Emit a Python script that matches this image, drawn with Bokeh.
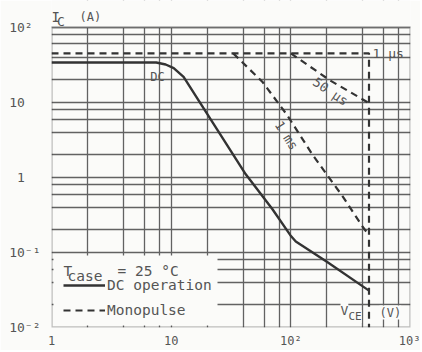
from bokeh.plotting import figure
from bokeh.models import FixedTicker, Label, Legend, LegendItem, BoxAnnotation
from bokeh.embed import file_html
from bokeh.resources import INLINE

# ---- data ----
dc_v = [1, 7.5, 9, 10.5, 12.7, 42, 70, 99, 110, 200, 450]
dc_i = [34, 34, 32, 28.6, 21.8, 1.1, 0.38, 0.17, 0.14, 0.075, 0.031]
p1us_v = [1, 450, 450]
p1us_i = [45, 45, 0.01]
p50us_v = [100, 214, 450]
p50us_i = [45, 19.5, 9.8]
p1ms_v = [33, 58, 93, 152, 271, 398, 450]
p1ms_i = [45, 18.7, 6.8, 2.0, 0.56, 0.22, 0.17]

x_major = [1, 10, 100, 1000]
x_minor = [2, 4, 6, 8, 20, 40, 60, 80, 200, 400, 600, 800]
y_major = [0.01, 0.1, 1, 10, 100]
y_minor = [0.02, 0.04, 0.06, 0.08, 0.2, 0.4, 0.6, 0.8, 2, 4, 6, 8, 20, 40, 60, 80]
x_labels = {1: "1", 10: "10", 100: "10²", 1000: "10³"}
NB = "\u00a0"   # keeps the left-leaning placement of the y tick labels
y_labels = {0.01: "10⁻²", 0.1: "10⁻¹", 1: NB + "1" + NB + NB,
            10: "10" + NB + NB, 100: "10²" + NB}

X_MIN, X_MAX = 1, 1000
Y_MIN, Y_MAX = 0.01, 100

# ---- style / layout ----
FONT = "DejaVu Sans Mono"
INK = "#333333"
TXT = "#555555"
GRID = "#626262"
BG = "#fbfbf9"
DASH = "7 5"
W, H = 420, 350
LEFT, RIGHT, BOTTOM = 51, 10, 21
HEAD = 27                       # space above the I_C axis top, in px
DECADE_PX = (H - BOTTOM - HEAD) / 4.0
y_top = Y_MAX * 10 ** (HEAD / DECADE_PX)   # frame reaches the top edge

p = figure(width=W, height=H, x_axis_type="log", y_axis_type="log",
           x_range=(X_MIN, X_MAX), y_range=(Y_MIN, y_top), title=None,
           output_backend="svg", toolbar_location=None,
           min_border_left=LEFT, min_border_right=RIGHT,
           min_border_top=0, min_border_bottom=BOTTOM)
p.background_fill_color = BG
p.border_fill_color = BG
p.outline_line_color = None

p.xaxis.ticker = FixedTicker(ticks=x_major, minor_ticks=x_minor)
p.yaxis.ticker = FixedTicker(ticks=y_major, minor_ticks=y_minor)
p.xaxis.major_label_overrides = x_labels
p.yaxis.major_label_overrides = y_labels
for ax in (p.xaxis, p.yaxis):
    ax.axis_line_color = None
    ax.major_tick_line_color = None
    ax.minor_tick_line_color = None
    ax.major_tick_out = 0
    ax.minor_tick_out = 0
    ax.major_tick_in = 0
    ax.minor_tick_in = 0
    ax.major_label_text_font = FONT
    ax.major_label_text_color = TXT
p.xaxis.major_label_text_font_size = "12px"
p.yaxis.major_label_text_font_size = "13px"
p.xaxis.major_label_standoff = 6
p.yaxis.major_label_standoff = 11

for g in (p.xgrid, p.ygrid):
    g.grid_line_color = GRID
    g.grid_line_width = 1.3
    g.minor_grid_line_color = GRID
    g.minor_grid_line_width = 1.3

# ---- curves ----
r_dc = p.line(dc_v, dc_i, line_width=2.4, color=INK)
r_1us = p.line(p1us_v, p1us_i, line_width=2.2, color=INK, line_dash=DASH)
p.line(p50us_v, p50us_i, line_width=2.2, color=INK, line_dash=DASH)
p.line(p1ms_v, p1ms_i, line_width=2.2, color=INK, line_dash=DASH)

# blank band above the chart (holds the I_C title)
p.add_layout(BoxAnnotation(bottom=Y_MAX, fill_color=BG, fill_alpha=1,
                           line_alpha=0))
# chart border
p.add_layout(BoxAnnotation(left=X_MIN, right=X_MAX, bottom=Y_MIN, top=Y_MAX,
                           fill_alpha=0, line_color=INK, line_width=2.5))
# blank area behind legend (screen units relative to frame)
p.add_layout(BoxAnnotation(left=2, right=166, bottom=2, top=72,
                           left_units="screen", right_units="screen",
                           bottom_units="screen", top_units="screen",
                           fill_color=BG, fill_alpha=1, line_alpha=0))

legend = Legend(items=[LegendItem(label="DC operation", renderers=[r_dc]),
                       LegendItem(label="Monopulse", renderers=[r_1us])],
                location=(12, 9), glyph_width=42, glyph_height=14,
                label_height=14, label_standoff=2, spacing=9, padding=0,
                margin=0, background_fill_alpha=0, border_line_alpha=0,
                label_text_font=FONT, label_text_font_size="14.5px",
                label_text_color=TXT)
p.add_layout(legend)


def lab(text, x, y, size="13px", align="left", baseline="alphabetic",
        angle=0.0, bg=None):
    kw = {}
    if bg is not None:
        kw = dict(background_fill_color=bg, background_fill_alpha=1)
    p.add_layout(Label(x=x, y=y, x_units="screen", y_units="screen",
                       text=text, text_font=FONT, text_font_size=size,
                       text_color=TXT, text_align=align,
                       text_baseline=baseline, angle=angle, **kw))


# axis titles
lab("I", 0, 311, size="14px")
lab("C", 5.5, 306, size="13px")
lab("(A)", 28, 311, size="12px")
lab("V", 289, 17, size="13px", bg=BG)
lab("CE", 297, 11, size="11px", bg=BG)
lab("(V)", 328, 15, size="12px", bg=BG)

# curve annotations
lab("DC", 106, 251, size="12px", align="center", baseline="middle")
lab("1 µs", 321, 274, size="13px", baseline="middle")
lab("50 µs", 279, 236, size="13px", align="center", baseline="middle",
    angle=-0.593)
lab("1 ms", 235, 192, size="13px", align="center", baseline="middle",
    angle=-0.995)

# legend heading
lab("T", 12, 57, size="14.5px")
lab("case", 16, 52, size="14.5px")
lab("= 25 °C", 66, 57, size="14.5px")

open("out.html", "w").write(file_html(p, INLINE))
